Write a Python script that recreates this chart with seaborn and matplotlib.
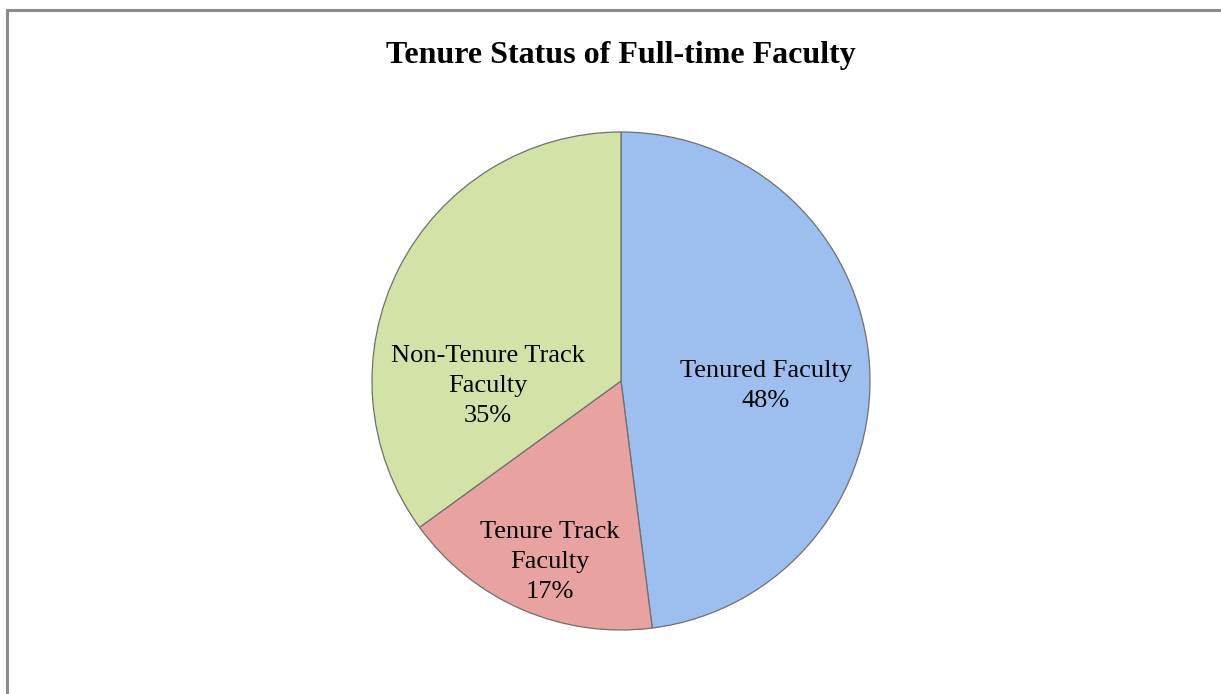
#!/usr/bin/env python3

import numpy as np
import seaborn as sns
import matplotlib.pyplot as plt
import matplotlib.patches as mpatches

sns.set_theme(style="white")
plt.rcParams['font.family'] = ['Liberation Serif', 'DejaVu Serif']

categorias = ["Tenured Faculty", "Tenure Track\nFaculty", "Non-Tenure Track\nFaculty"]
percentuais = [48, 17, 35]
cores = ["#9dbfef", "#e8a3a0", "#d3e3a7"]

# distancia do rotulo (fracao do raio) e deslocamento angular de cada rotulo
dist_rotulo = [0.583, 0.78, 0.536]
desvio_ang = [-5.6, 2.0, 29.2]

fig = plt.figure(figsize=(12.21, 6.94), dpi=100)

# moldura cinza
fig.patches.append(mpatches.Rectangle((7 / 1221, -0.05), 1.1, (694 - 10) / 694 + 0.05,
                                      transform=fig.transFigure, fill=False,
                                      edgecolor="#8c8c8c", linewidth=2.2))

ax = fig.add_axes([(621 - 249) / 1221, (313 - 249) / 694, 498 / 1221, 498 / 694])
wedges, _ = ax.pie(percentuais, colors=cores, startangle=90, counterclock=False,
                   radius=1, wedgeprops=dict(edgecolor="#6f6f6f", linewidth=0.9))
ax.set_xlim(-1, 1)
ax.set_ylim(-1, 1)
ax.set_aspect("equal")
ax.axis("off")

for w, nome, p, d, da in zip(wedges, categorias, percentuais, dist_rotulo, desvio_ang):
    ang = np.deg2rad((w.theta1 + w.theta2) / 2 + da)
    ax.text(d * np.cos(ang), d * np.sin(ang), f"{nome}\n{p}%", ha="center", va="center",
            fontsize=19, color="black", linespacing=1.48)

fig.text(621 / 1221, 1 - 55 / 694, "Tenure Status of Full-time Faculty", ha="center",
         va="center", fontsize=23, fontweight="bold", color="black")

fig.savefig("out.png", dpi=100)
